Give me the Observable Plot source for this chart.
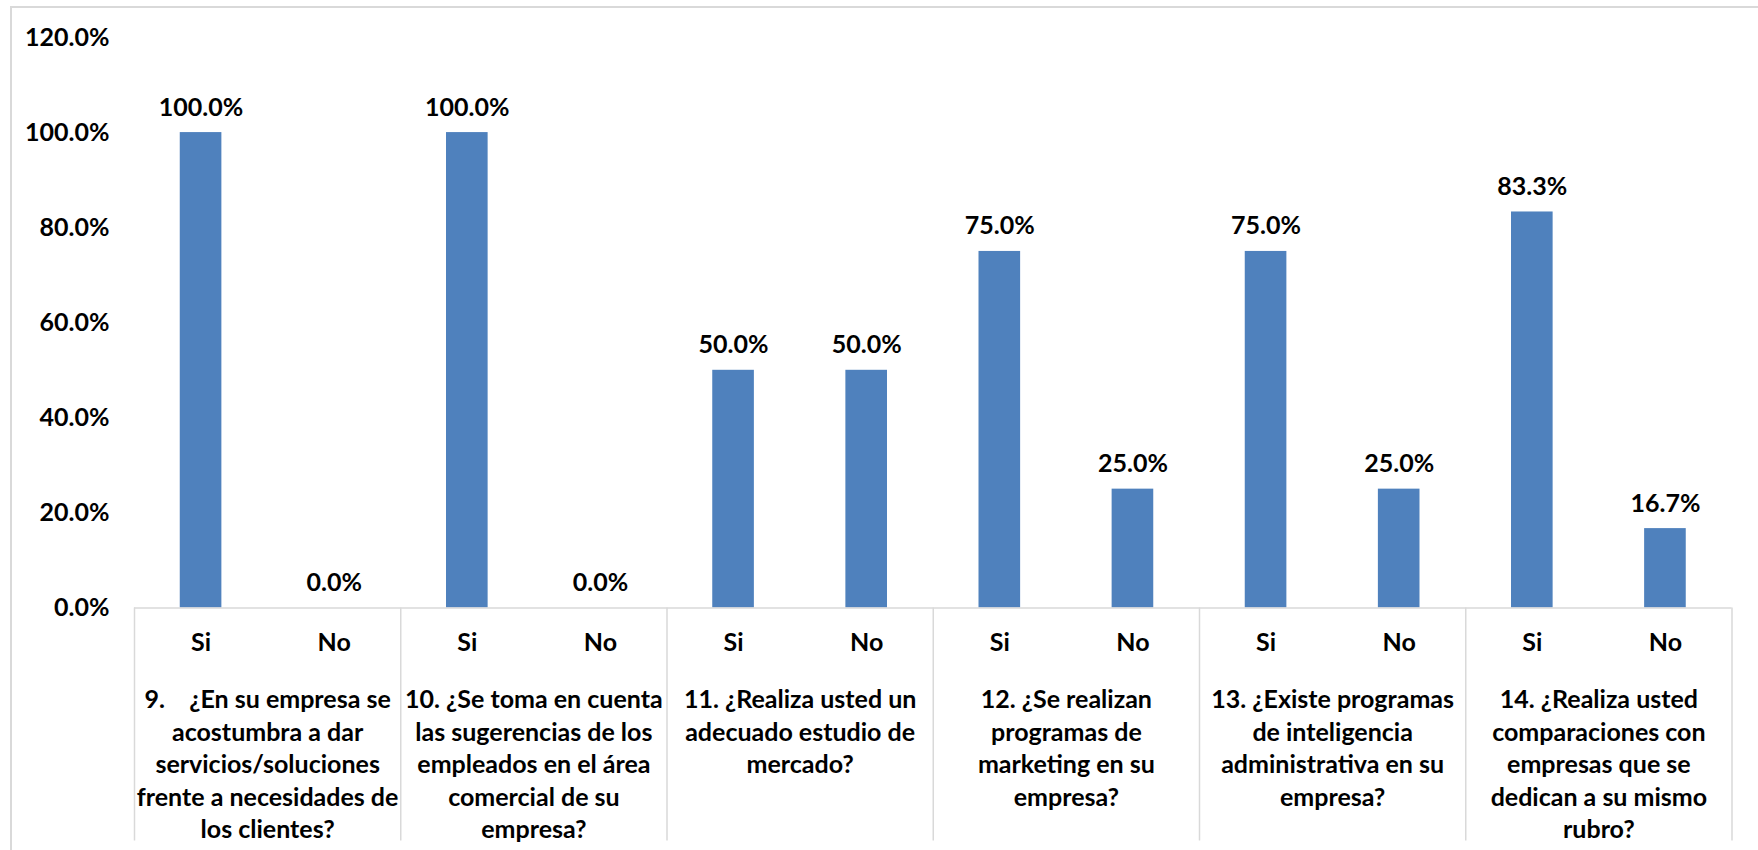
<!DOCTYPE html>
<html><head><meta charset="utf-8">
<script src="https://cdn.jsdelivr.net/npm/d3@7"></script>
<script src="https://cdn.jsdelivr.net/npm/@observablehq/plot@0.6"></script>
<style>
html,body{margin:0;padding:0;background:#fff;overflow:hidden;width:1758px;height:850px;}
#frame{position:absolute;left:10px;top:6px;width:1800px;height:900px;border:2px solid #d9d9d9;box-sizing:border-box;}
#chart{position:absolute;left:0;top:0;}
svg text{white-space:pre;}
</style></head><body><div id="frame"></div><div id="chart"></div>
<script>
const questions = [
  "9.    ¿En su empresa se\nacostumbra a dar\nservicios/soluciones\nfrente a necesidades de\nlos clientes?",
  "10. ¿Se toma en cuenta\nlas sugerencias de los\nempleados en el área\ncomercial de su\nempresa?",
  "11. ¿Realiza usted un\nadecuado estudio de\nmercado?",
  "12. ¿Se realizan\nprogramas de\nmarketing en su\nempresa?",
  "13. ¿Existe programas\nde inteligencia\nadministrativa en su\nempresa?",
  "14. ¿Realiza usted\ncomparaciones con\nempresas que se\ndedican a su mismo\nrubro?"
];
const answers = ["Si", "No"];
const siValues = [1.0, 1.0, 0.5, 0.75, 0.75, 0.833];
const noValues = [0.0, 0.0, 0.5, 0.25, 0.25, 0.167];
const yTicks = [0, 0.2, 0.4, 0.6, 0.8, 1.0, 1.2];

const barColor = "#4F81BD";
const gridColor = "#d9d9d9";
const pct = d3.format(".1%");

const rows = [];
questions.forEach((q, i) => {
  [siValues[i], noValues[i]].forEach((v, j) => {
    const p = i * answers.length + j;
    rows.push({question: q, answer: answers[j], value: v, x1: p, x2: p + 1, xc: p + 0.5});
  });
});
const nSlots = rows.length;
const boundaries = d3.range(0, nSlots + 1, answers.length);
const groupCenters = questions.map((q, i) => i * answers.length + answers.length / 2);

const chart = Plot.plot({
  width: 1758,
  height: 850,
  marginLeft: 134,
  marginRight: 26.5,
  marginTop: 37,
  marginBottom: 242.5,
  style: {fontFamily: "Lato, 'Open Sans', sans-serif", fontWeight: "bold", fontSize: "25px", color: "#000", background: "transparent", overflow: "visible"},
  x: {domain: [0, nSlots], label: null},
  y: {domain: [0, 1.2], label: null},
  marks: [
    Plot.rectY(rows, {x1: "x1", x2: "x2", y: "value", fill: barColor, insetLeft: 45.75, insetRight: 45.75}),
    Plot.ruleY([0], {stroke: gridColor, strokeWidth: 1.5}),
    Plot.axisX({ticks: boundaries, tickSize: 233, tickFormat: () => "", stroke: gridColor, strokeWidth: 1.5}),
    Plot.axisX({ticks: rows.map(r => r.xc), tickSize: 0, tickPadding: 25.5, tickFormat: d => rows.find(r => r.xc === d).answer}),
    Plot.axisX({ticks: groupCenters, tickSize: 0, tickPadding: 77, lineHeight: 1.3, tickFormat: d => questions[groupCenters.indexOf(d)]}),
    Plot.axisY({ticks: yTicks, tickSize: 0, tickPadding: 25, tickFormat: pct}),
    Plot.text(rows, {x: "xc", y: "value", text: d => pct(d.value), dy: -25, fill: "#000"})
  ]
});
document.getElementById("chart").appendChild(chart);
</script></body></html>
